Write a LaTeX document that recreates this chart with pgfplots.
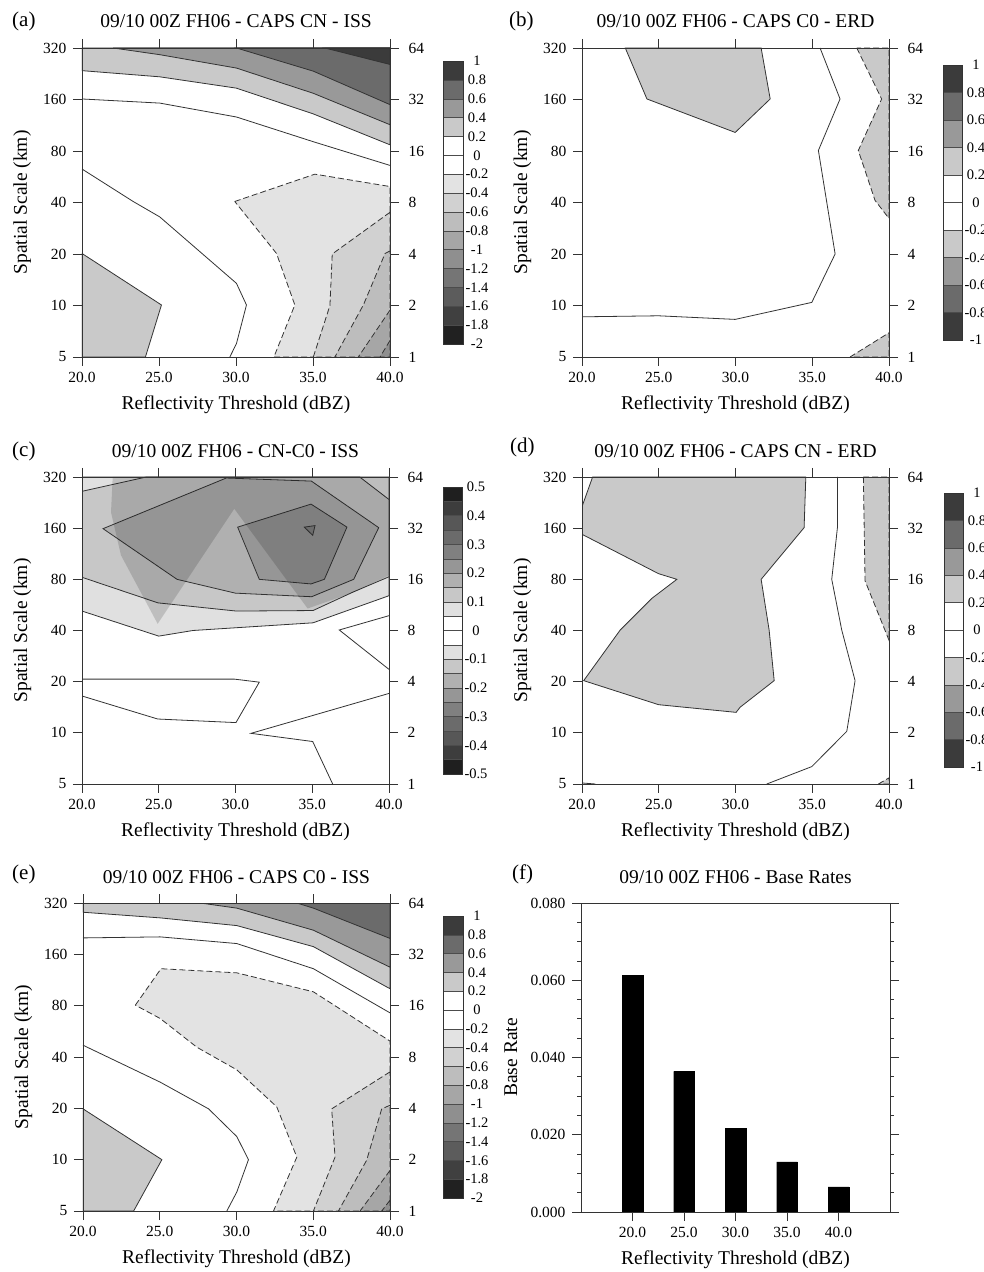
\documentclass[border=0pt]{standalone}
\usepackage{fontspec}
\setmainfont{Liberation Serif}
\usepackage{pgfplots}
\pgfplotsset{compat=1.18}

\newcommand{\tickfont}{\fontsize{15.5}{17}\selectfont}
\newcommand{\labfont}{\fontsize{19.5}{22}\selectfont}
\newcommand{\cbfont}{\fontsize{14.5}{16}\selectfont}
\newcommand{\letfont}{\fontsize{21}{24}\selectfont}

\colorlet{cA1}{black!77}
\colorlet{cA2}{black!58}
\colorlet{cA3}{black!40}
\colorlet{cA4}{black!21}
\colorlet{cN1}{black!11}
\colorlet{cN2}{black!18}
\colorlet{cN3}{black!26}
\colorlet{cN4}{black!35}
\colorlet{cN5}{black!44}
\colorlet{cN6}{black!54}
\colorlet{cN7}{black!64}
\colorlet{cN8}{black!75}
\colorlet{cN9}{black!87}
\colorlet{cC1}{black!12}
\colorlet{cC2}{black!22}
\colorlet{cC3}{black!31}
\colorlet{cC4}{black!41}
\colorlet{cC5}{black!50}
\colorlet{cC6}{black!58}
\colorlet{cC7}{black!66}
\colorlet{cC8}{black!76}
\colorlet{cC9}{black!88}

\pgfplotsset{
  cl/.style={draw=black!80, line width=0.8pt},
  cld/.style={cl, dash pattern=on 6pt off 3pt},
  cont/.style={
    scale only axis, xmin=20, xmax=40, ymin=0, ymax=6, axis on top,
    xtick={20,25,30,35,40}, xticklabels={20.0,25.0,30.0,35.0,40.0},
    ytick={0,1,2,3,4,5,6}, yticklabels={5,10,20,40,80,160,320},
    tick align=outside, major tick length=9pt,
    xtick pos=both, ytick pos=both, xticklabel pos=left, yticklabel pos=left,
    tick style={draw=black!80, line width=0.8pt},
    axis line style={draw=black!80, line width=0.8pt},
    ticklabel style={font=\tickfont},
    xticklabel style={yshift=-3pt}, yticklabel style={xshift=-3pt},
    xlabel={Reflectivity Threshold (dBZ)}, ylabel={Spatial Scale (km)},
    xlabel style={at={(0.5,-0.1715)}, anchor=base, font=\labfont},
    ylabel style={at={(-0.1786,0.5)}, anchor=base, font=\labfont},
    title style={at={(0.5,1.0647)}, anchor=base, yshift=-6pt, font=\labfont},
  },
  rightlab/.style={
    scale only axis, xmin=20, xmax=40, ymin=0, ymax=6,
    axis x line=none, axis y line*=right, y axis line style={draw=none},
    ytick={0,1,2,3,4,5,6}, yticklabels={1,2,4,8,16,32,64},
    ytick style={draw=none}, tick align=outside, major tick length=9pt,
    yticklabel style={font=\tickfont, xshift=6pt},
  },
  cbar/.style={
    scale only axis, xmin=0, xmax=1, ymin=0, axis on top,
    xtick=\empty, ytick pos=right, yticklabel pos=right, major tick length=0pt,
    ytick style={draw=none}, axis line style={draw=black!80, line width=0.6pt},
    yticklabel style={font=\cbfont, anchor=center, xshift=14pt},
  },
}
\newcommand{\cbox}[3]{\addplot[fill=#3, draw=black!70, line width=0.4pt] coordinates {(0,#1)(1,#1)(1,#2)(0,#2)} -- cycle;}

\begin{document}
\begin{tikzpicture}
\useasboundingbox (0pt,0pt) rectangle (984pt,1272pt);

% ---------------- (a)
\begin{axis}[cont, at={(82pt,915pt)}, width=308pt, height=309pt,
  title={09/10 00Z FH06 - CAPS CN - ISS}]
\addplot[fill=cA4, cl] coordinates {(20,5.56)(25.05,5.44)(30.03,5.22)(35.02,4.72)(40,4.12)(40,6)(20,6)} -- cycle;
\addplot[fill=cA3, cl] coordinates {(22.02,6)(25.05,5.87)(30.03,5.61)(35.02,5.12)(40,4.51)(40,6)} -- cycle;
\addplot[fill=cA2, cl] coordinates {(30.03,6)(35.02,5.55)(40,4.90)(40,6)} -- cycle;
\addplot[fill=cA1, cl] coordinates {(35.77,6)(40,5.68)(40,6)} -- cycle;
\addplot[cl] coordinates {(20,5.01)(25.05,4.93)(30.03,4.66)(35.02,4.18)(40,3.72)};
\addplot[cl] coordinates {(20,3.65)(23.32,3.02)(25.05,2.72)(30.03,1.43)(30.68,1.01)(30.03,0.26)(29.60,0)};
\addplot[fill=cA4, cl] coordinates {(20,2.01)(25.16,1.01)(24.12,0)(20,0)} -- cycle;
\addplot[fill=cN1, cld] coordinates {(29.92,3.02)(35.12,3.55)(40,3.31)(40,0)(32.46,0)(33.82,1.01)(32.63,2.01)} -- cycle;
\addplot[fill=cN2, cld] coordinates {(40,2.81)(36.25,2.0)(36.1,1.0)(35.02,0)(40,0)} -- cycle;
\addplot[fill=cN3, cld] coordinates {(40,2.06)(39.68,2.01)(38.27,1.01)(36.42,0)(40,0)} -- cycle;
\addplot[fill=cN4, cld] coordinates {(40,0.91)(37.94,0)(40,0)} -- cycle;
\addplot[fill=cN5, cld] coordinates {(40,0.32)(39.35,0)(40,0)} -- cycle;
\end{axis}
\begin{axis}[rightlab, at={(82pt,915pt)}, width=308pt, height=309pt]
\end{axis}
\begin{axis}[cbar, at={(443pt,928pt)}, width=20pt, height=283pt, ymax=15,
  ytick={0,1,2,3,4,5,6,7,8,9,10,11,12,13,14,15},
  yticklabels={-2,-1.8,-1.6,-1.4,-1.2,-1,-0.8,-0.6,-0.4,-0.2,0,0.2,0.4,0.6,0.8,1}]
\cbox{0}{1}{cN9}\cbox{1}{2}{cN8}\cbox{2}{3}{cN7}\cbox{3}{4}{cN6}\cbox{4}{5}{cN5}
\cbox{5}{6}{cN4}\cbox{6}{7}{cN3}\cbox{7}{8}{cN2}\cbox{8}{9}{cN1}\cbox{9}{10}{white}
\cbox{10}{11}{white}\cbox{11}{12}{cA4}\cbox{12}{13}{cA3}\cbox{13}{14}{cA2}\cbox{14}{15}{cA1}
\end{axis}

% ---------------- (b)
\begin{axis}[cont, at={(582pt,915pt)}, width=307pt, height=309pt,
  title={09/10 00Z FH06 - CAPS C0 - ERD}]
\addplot[fill=cA4, cl] coordinates {(22.82,6)(24.23,5.01)(29.98,4.36)(32.26,5.01)(31.67,6)} -- cycle;
\addplot[cl] coordinates {(35.51,6)(36.81,5.01)(35.40,4.01)(36.49,2.0)(34.97,1.06)(29.98,0.73)(24.99,0.80)(20,0.78)};
\addplot[fill=cA4, cld] coordinates {(37.90,6)(39.52,5.01)(38.0,4.01)(39.09,3.04)(40,2.69)(40,6)} -- cycle;
\addplot[fill=cA4, cld] coordinates {(37.46,0)(40,0.47)(40,0)} -- cycle;
\end{axis}
\begin{axis}[rightlab, at={(582pt,915pt)}, width=307pt, height=309pt]
\end{axis}
\begin{axis}[cbar, at={(943pt,932pt)}, width=19pt, height=275pt, ymax=10,
  ytick={0,1,2,3,4,5,6,7,8,9,10},
  yticklabels={-1,-0.8,-0.6,-0.4,-0.2,0,0.2,0.4,0.6,0.8,1}]
\cbox{0}{1}{cA1}\cbox{1}{2}{cA2}\cbox{2}{3}{cA3}\cbox{3}{4}{cA4}\cbox{4}{5}{white}
\cbox{5}{6}{white}\cbox{6}{7}{cA4}\cbox{7}{8}{cA3}\cbox{8}{9}{cA2}\cbox{9}{10}{cA1}
\end{axis}

% ---------------- (c)
\begin{axis}[cont, at={(82pt,488pt)}, width=307pt, height=307pt,
  title={09/10 00Z FH06 - CN-C0 - ISS}]
\addplot[fill=cC1, cl] coordinates {(20,3.38)(25.0,2.89)(27.23,3.00)(35.05,3.15)(40,3.68)(40,6)(20,6)} -- cycle;
\addplot[fill=cC2, cl] coordinates {(20,4.04)(24.95,3.54)(30.05,3.38)(35.05,3.39)(37.65,3.75)(40,4.05)(40,5.56)(38.09,6)(24.19,6)(20,5.72)} -- cycle;
\addplot[fill=cC3, cl] coordinates {(21.37,4.99)(29.40,5.98)(34.94,5.92)(39.33,5.01)(37.70,4.00)(34.96,3.66)(29.99,3.73)(26.19,4.00)} -- cycle;
\addplot[fill=cC4, cl] coordinates {(30.14,5.02)(31.55,4.00)(34.92,3.91)(35.79,4.00)(37.26,5.02)(34.92,5.47)} -- cycle;
\addplot[fill=cC5, cl] coordinates {(34.48,5.02)(35.18,5.05)(35.03,4.86)} -- cycle;
\addplot[fill=black, fill opacity=0.15, draw=none] coordinates {(22.0,6)(40,6)(40,4.08)(37.74,3.75)(34.70,3.43)(29.92,5.38)(24.93,3.13)(22.54,4.47)(21.89,5.31)} -- cycle;
\addplot[cl] coordinates {(20,2.05)(29.92,2.05)(31.55,1.99)(30.03,1.20)(24.93,1.27)(20,1.72)};
\addplot[cl] coordinates {(40,1.77)(31.01,0.99)(35.03,0.83)(36.33,0)};
\addplot[cl] coordinates {(40,3.29)(36.76,3.01)(40,2.24)};
\end{axis}
\begin{axis}[rightlab, at={(82pt,488pt)}, width=307pt, height=307pt]
\end{axis}
\begin{axis}[cbar, at={(443pt,498pt)}, width=19pt, height=287pt, ymax=20,
  ytick={0,2,4,6,8,10,12,14,16,18,20},
  yticklabels={-0.5,-0.4,-0.3,-0.2,-0.1,0,0.1,0.2,0.3,0.4,0.5}]
\cbox{0}{1}{cC9}\cbox{1}{2}{cC8}\cbox{2}{3}{cC7}\cbox{3}{4}{cC6}\cbox{4}{5}{cC5}
\cbox{5}{6}{cC4}\cbox{6}{7}{cC3}\cbox{7}{8}{cC2}\cbox{8}{9}{cC1}\cbox{9}{10}{white}
\cbox{10}{11}{white}\cbox{11}{12}{cC1}\cbox{12}{13}{cC2}\cbox{13}{14}{cC3}\cbox{14}{15}{cC4}
\cbox{15}{16}{cC5}\cbox{16}{17}{cC6}\cbox{17}{18}{cC7}\cbox{18}{19}{cC8}\cbox{19}{20}{cC9}
\end{axis}

% ---------------- (d)
\begin{axis}[cont, at={(582pt,488pt)}, width=307pt, height=307pt,
  title={09/10 00Z FH06 - CAPS CN - ERD}]
\addplot[fill=cA4, cl] coordinates {(20.69,6)(34.58,6)(34.47,5.01)(31.67,4.0)(32.19,3.01)(32.52,2.02)(30.30,1.50)(30.04,1.40)(24.99,1.55)(20.11,2.02)(22.49,3.01)(24.56,3.63)(26.18,4.0)(24.99,4.11)(20,4.88)(20,5.42)} -- cycle;
\addplot[cl] coordinates {(36.64,6)(36.64,5.01)(36.27,4.0)(36.92,3.01)(37.79,2.02)(37.25,1.03)(34.97,0.34)(32.04,0)};
\addplot[fill=cA4, cld] coordinates {(38.33,6)(38.44,3.97)(40,2.81)(40,6)} -- cycle;
\addplot[fill=cA4, cld] coordinates {(39.31,0)(40,0.12)(40,0)} -- cycle;
\addplot[cl] coordinates {(20,0.02)(20.87,0)};
\end{axis}
\begin{axis}[rightlab, at={(582pt,488pt)}, width=307pt, height=307pt]
\end{axis}
\begin{axis}[cbar, at={(944pt,505pt)}, width=19pt, height=274pt, ymax=10,
  ytick={0,1,2,3,4,5,6,7,8,9,10},
  yticklabels={-1,-0.8,-0.6,-0.4,-0.2,0,0.2,0.4,0.6,0.8,1}]
\cbox{0}{1}{cA1}\cbox{1}{2}{cA2}\cbox{2}{3}{cA3}\cbox{3}{4}{cA4}\cbox{4}{5}{white}
\cbox{5}{6}{white}\cbox{6}{7}{cA4}\cbox{7}{8}{cA3}\cbox{8}{9}{cA2}\cbox{9}{10}{cA1}
\end{axis}

% ---------------- (e)
\begin{axis}[cont, at={(83pt,61pt)}, width=307pt, height=308pt,
  title={09/10 00Z FH06 - CAPS C0 - ISS}]
\addplot[fill=cA4, cl] coordinates {(20,5.82)(25.03,5.71)(30.02,5.56)(35.01,5.15)(40,4.33)(40,6)(20,6)} -- cycle;
\addplot[fill=cA3, cl] coordinates {(27.64,6)(30.02,5.90)(35.01,5.47)(40,4.75)(40,6)} -- cycle;
\addplot[fill=cA2, cl] coordinates {(33.93,6)(35.01,5.90)(40,5.31)(40,6)} -- cycle;
\addplot[cl] coordinates {(20,5.32)(25.03,5.34)(30.02,5.21)(35.01,4.72)(40,3.86)};
\addplot[fill=cN1, cld] coordinates {(23.41,4.01)(25.08,4.72)(30.02,4.64)(35.01,4.27)(40,3.31)(40,0)(32.41,0)(33.93,1.05)(32.62,2.03)(30.02,2.75)(27.42,3.19)(25.03,3.75)} -- cycle;
\addplot[fill=cN2, cld] coordinates {(40,2.71)(36.20,1.99)(36.42,1.05)(35.01,0)(40,0)} -- cycle;
\addplot[fill=cN3, cld] coordinates {(40,2.06)(39.46,1.99)(38.48,0.99)(36.64,0)(40,0)} -- cycle;
\addplot[fill=cN4, cld] coordinates {(40,0.79)(38.05,0)(40,0)} -- cycle;
\addplot[fill=cN5, cld] coordinates {(40,0.21)(39.46,0)(40,0)} -- cycle;
\addplot[cl] coordinates {(20,3.23)(25.03,2.51)(28.18,1.99)(30.02,1.45)(30.78,1.0)(30.02,0.37)(29.37,0)};
\addplot[fill=cA4, cl] coordinates {(20,1.99)(25.14,1.0)(23.30,0)(20,0)} -- cycle;
\end{axis}
\begin{axis}[rightlab, at={(83pt,61pt)}, width=307pt, height=308pt]
\end{axis}
\begin{axis}[cbar, at={(443pt,74pt)}, width=20pt, height=282pt, ymax=15,
  ytick={0,1,2,3,4,5,6,7,8,9,10,11,12,13,14,15},
  yticklabels={-2,-1.8,-1.6,-1.4,-1.2,-1,-0.8,-0.6,-0.4,-0.2,0,0.2,0.4,0.6,0.8,1}]
\cbox{0}{1}{cN9}\cbox{1}{2}{cN8}\cbox{2}{3}{cN7}\cbox{3}{4}{cN6}\cbox{4}{5}{cN5}
\cbox{5}{6}{cN4}\cbox{6}{7}{cN3}\cbox{7}{8}{cN2}\cbox{8}{9}{cN1}\cbox{9}{10}{white}
\cbox{10}{11}{white}\cbox{11}{12}{cA4}\cbox{12}{13}{cA3}\cbox{13}{14}{cA2}\cbox{14}{15}{cA1}
\end{axis}

% ---------------- (f)
\begin{axis}[scale only axis, at={(581pt,60pt)}, width=309pt, height=309pt,
  xmin=15, xmax=45, ymin=0, ymax=0.08, scaled y ticks=false,
  xtick={20,25,30,35,40}, xticklabels={20.0,25.0,30.0,35.0,40.0},
  ytick={0,0.02,0.04,0.06,0.08}, yticklabels={0.000,0.020,0.040,0.060,0.080},
  minor ytick={0.005,0.01,0.015,0.025,0.03,0.035,0.045,0.05,0.055,0.065,0.07,0.075},
  xtick pos=left, ytick pos=both, yticklabel pos=left,
  tick align=outside, major tick length=9pt, minor tick length=4pt,
  tick style={draw=black!80, line width=0.8pt},
  axis line style={draw=black!80, line width=0.8pt},
  ticklabel style={font=\tickfont},
  xticklabel style={yshift=-3pt}, yticklabel style={xshift=-3pt},
  title={09/10 00Z FH06 - Base Rates},
  xlabel={Reflectivity Threshold (dBZ)}, ylabel={Base Rate},
  xlabel style={at={(0.5,-0.1683)}, anchor=base, font=\labfont},
  ylabel style={at={(-0.207,0.5)}, anchor=base, font=\labfont},
  title style={at={(0.5,1.0615)}, anchor=base, yshift=-6pt, font=\labfont}]
\addplot[ybar, bar width=2, fill=black, draw=black] coordinates {(20,0.0612)(25,0.0364)(30,0.0217)(35,0.0130)(40,0.0065)};
\end{axis}

% panel letters
\node[anchor=base west, font=\letfont, inner sep=0pt] at (12pt,1245pt) {(a)};
\node[anchor=base west, font=\letfont, inner sep=0pt] at (509pt,1245pt) {(b)};
\node[anchor=base west, font=\letfont, inner sep=0pt] at (12pt,815pt) {(c)};
\node[anchor=base west, font=\letfont, inner sep=0pt] at (510pt,819pt) {(d)};
\node[anchor=base west, font=\letfont, inner sep=0pt] at (12pt,392pt) {(e)};
\node[anchor=base west, font=\letfont, inner sep=0pt] at (512pt,392pt) {(f)};
\end{tikzpicture}
\end{document}
